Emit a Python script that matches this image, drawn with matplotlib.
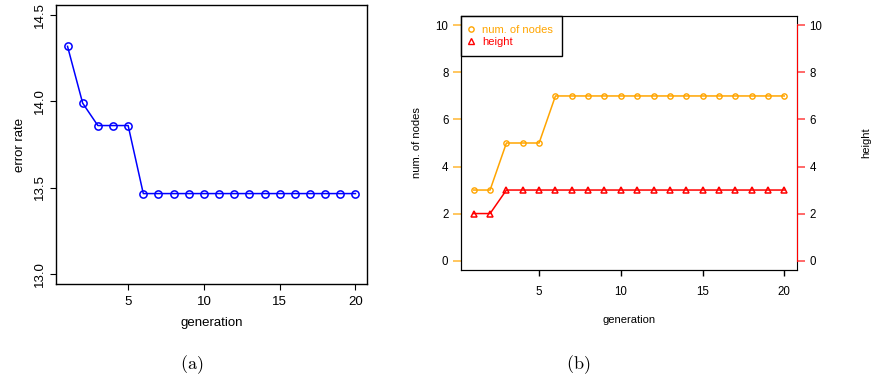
import matplotlib
matplotlib.use('Agg')
import matplotlib.pyplot as plt
from matplotlib.ticker import FormatStrFormatter
from matplotlib.lines import Line2D

plt.rcParams['font.family'] = ['Liberation Sans', 'DejaVu Sans']
plt.rcParams['mathtext.fontset'] = 'cm'

# data
generation = list(range(1, 21))
error_rate = [14.32, 13.99, 13.86, 13.86, 13.86] + [13.465] * 15
num_nodes = [3, 3, 5, 5, 5] + [7] * 15
tree_height = [2, 2] + [3] * 18

err_ticks = [13.0, 13.5, 14.0, 14.5]
gen_ticks = [5, 10, 15, 20]
count_ticks = [0, 2, 4, 6, 8, 10]

fig = plt.figure(figsize=(8.75, 3.79), dpi=100)

# (a) error rate
ax1 = fig.add_axes([0.064, 0.2507, 0.3554, 0.7361])
ax1.plot(generation, error_rate, color='blue', lw=1.1, marker='o',
         markersize=5.2, markerfacecolor='none', markeredgewidth=1.1)
ax1.set_xlim(1 - 0.76, 20 + 0.76)
ax1.set_ylim(13.0 - 0.06, 14.5 + 0.06)
ax1.set_xticks(gen_ticks)
ax1.set_yticks(err_ticks)
ax1.yaxis.set_major_formatter(FormatStrFormatter('%.1f'))
ax1.tick_params(direction='out', length=4, labelsize=9.5, pad=3)
ax1.tick_params(axis='x', pad=5)
for lab in ax1.get_yticklabels():
    lab.set_rotation(90)
    lab.set_va('center')
ax1.set_xlabel('generation', fontsize=9.5, labelpad=6)
ax1.set_ylabel('error rate', fontsize=9.5, labelpad=6)
for s in ax1.spines.values():
    s.set_linewidth(1.0)

# (b) nodes and height
ax2 = fig.add_axes([0.5272, 0.2876, 0.3833, 0.6702])
ax2.plot(generation, num_nodes, color='#FFA500', lw=1.1, marker='o',
         markersize=3.8, markerfacecolor='none', markeredgewidth=1.0)
ax2.set_xlim(1 - 0.76, 20 + 0.76)
ax2.set_ylim(-0.4, 10.4)
ax2.set_xticks(gen_ticks)
ax2.set_yticks(count_ticks)
ax2.tick_params(axis='x', direction='out', length=4.5, width=1,
                labelsize=8.3, pad=7.2)
ax2.tick_params(axis='y', direction='out', length=5.5, width=1.1,
                labelsize=8.3, color='#FFB733', pad=3.8)
ax2.set_xlabel('generation', fontsize=8, labelpad=12)
ax2.set_ylabel('num. of nodes', fontsize=8, labelpad=10)

ax3 = ax2.twinx()
ax3.plot(generation, tree_height, color='red', lw=1.1, marker='^',
         markersize=4.8, markerfacecolor='none', markeredgewidth=1.1)
ax3.set_ylim(-0.4, 10.4)
ax3.set_yticks(count_ticks)
ax3.tick_params(axis='y', direction='out', length=5.5, width=1.1,
                labelsize=8.3, color='#FF4040', pad=3.8)
ax3.spines['right'].set_bounds(0, 10)
ax3.spines['right'].set_color('red')
fig.text(866 / 875, 1 - 143 / 379, 'height', fontsize=8, rotation=90,
         ha='center', va='center')

handles = [Line2D([], [], ls='none', marker='o', color='#FFA500',
                  markerfacecolor='none', markersize=3.8),
           Line2D([], [], ls='none', marker='^', color='red',
                  markerfacecolor='none', markersize=4.8)]
leg = ax2.legend(handles, ['num. of nodes', 'height'], loc='upper left',
                 fontsize=8, frameon=True, fancybox=False, borderaxespad=0,
                 handlelength=0.2, handletextpad=0.9, borderpad=0.8,
                 labelspacing=0.2, framealpha=1)
leg.get_frame().set_edgecolor('black')
leg.get_frame().set_linewidth(1.0)
for txt, c in zip(leg.get_texts(), ['#FFA500', 'red']):
    txt.set_color(c)

fig.text(192 / 875, 1 - 365 / 379, r'$(\mathrm{a})$', fontsize=13,
         ha='center', va='center')
fig.text(578 / 875, 1 - 365 / 379, r'$(\mathrm{b})$', fontsize=13,
         ha='center', va='center')

fig.savefig('out.png', dpi=100)
